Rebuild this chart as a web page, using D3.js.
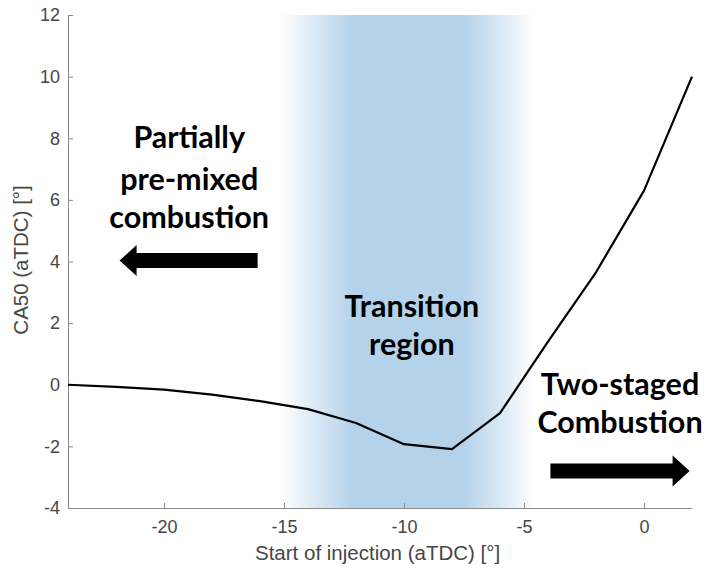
<!DOCTYPE html>
<html>
<head>
<meta charset="utf-8">
<script src="https://cdn.jsdelivr.net/npm/d3@7"></script>
<style>
  body { margin: 0; background: #fff; }
  svg { display: block; }
</style>
</head>
<body>
<svg id="chart" width="707" height="572"></svg>
<script>
// start of injection [deg aTDC] and CA50 [deg aTDC]
const soi = [-24, -22, -20, -18, -16, -14, -12, -10, -8, -6, -4, -2, 0, 2];
const ca50 = [0, -0.07, -0.16, -0.32, -0.53, -0.79, -1.24, -1.93, -2.09, -0.92, 1.4, 3.65, 6.3, 10];

const xTicks = [-20, -15, -10, -5, 0];
const yTicks = [-4, -2, 0, 2, 4, 6, 8, 10, 12];

// transition band (fade start, solid start, solid end, fade end)
const band = [-15.2, -12.1, -7.5, -4.5];

const svg = d3.select("#chart");
const W = +svg.attr("width");
const H = +svg.attr("height");
const margin = { top: 15, right: 15, bottom: 64, left: 68 };

const x = d3.scaleLinear().domain([-24, 2]).range([margin.left, W - margin.right]);
const y = d3.scaleLinear().domain([-4, 12]).range([H - margin.bottom, margin.top]);

// shaded transition region
const defs = svg.append("defs");
const grad = defs.append("linearGradient")
  .attr("id", "bandGrad")
  .attr("gradientUnits", "userSpaceOnUse")
  .attr("x1", x(band[0])).attr("x2", x(band[3]))
  .attr("y1", 0).attr("y2", 0);
const span = band[3] - band[0];
const blue = "#b4d2ea";
[
  [0, 0], [(band[1] - band[0]) / span, 1],
  [(band[2] - band[0]) / span, 1], [1, 0]
].forEach(([o, a]) => {
  grad.append("stop").attr("offset", o).attr("stop-color", blue).attr("stop-opacity", a);
});

svg.append("rect")
  .attr("x", x(band[0]))
  .attr("y", y(12))
  .attr("width", x(band[3]) - x(band[0]))
  .attr("height", y(-4) - y(12))
  .attr("fill", "url(#bandGrad)");

// axes
const axisColor = "#8a8a8a";
const labelColor = "#464646";
const axisFont = "'Liberation Sans', Arial, sans-serif";

const gx = svg.append("g")
  .attr("transform", `translate(0,${y(-4)})`)
  .call(d3.axisBottom(x).tickValues(xTicks).tickSizeInner(-5).tickSizeOuter(0).tickPadding(12));
const gy = svg.append("g")
  .attr("transform", `translate(${x(-24)},0)`)
  .call(d3.axisLeft(y).tickValues(yTicks).tickSizeInner(-5).tickSizeOuter(0).tickPadding(8));

[gx, gy].forEach(g => {
  g.select(".domain").attr("stroke", axisColor).attr("stroke-width", 1);
  g.selectAll(".tick line").attr("stroke", axisColor);
  g.selectAll(".tick text")
    .attr("fill", labelColor)
    .style("font-family", axisFont)
    .style("font-size", "18px");
});
gx.selectAll(".tick text").text(d => d < 0 ? "-" + Math.abs(d) : d);
gy.selectAll(".tick text").text(d => d < 0 ? "-" + Math.abs(d) : d);

svg.append("text")
  .attr("x", x(-11.1))
  .attr("y", 560)
  .attr("text-anchor", "middle")
  .attr("fill", labelColor)
  .style("font-family", axisFont)
  .style("font-size", "20.5px")
  .text("Start of injection (aTDC) [°]");

svg.append("text")
  .attr("transform", `translate(28,${y(4.05)}) rotate(-90)`)
  .attr("text-anchor", "middle")
  .attr("fill", labelColor)
  .style("font-family", axisFont)
  .style("font-size", "20.5px")
  .text("CA50 (aTDC) [°]");

// CA50 curve
const line = d3.line()
  .x((d, i) => x(soi[i]))
  .y(d => y(d));

svg.append("path")
  .datum(ca50)
  .attr("fill", "none")
  .attr("stroke", "#000")
  .attr("stroke-width", 2.2)
  .attr("stroke-linejoin", "round")
  .attr("d", line);

// annotations
const noteFont = "Lato, 'Open Sans', sans-serif";
function note(lines, cx, baselines) {
  lines.forEach((t, i) => {
    svg.append("text")
      .attr("x", x(cx))
      .attr("y", y(baselines[i]))
      .attr("text-anchor", "middle")
      .style("font-family", noteFont)
      .style("font-weight", 700)
      .style("font-size", "30.5px")
      .attr("fill", "#000")
      .text(t);
  });
}
note(["Partially", "pre-mixed", "combustion"], -18.95, [7.69, 6.33, 5.1]);
note(["Transition", "region"], -9.67, [2.2, 0.97]);
note(["Two-staged", "Combustion"], -1.0, [-0.32, -1.56]);

// arrows: from tail to tip at a given height
function arrow(x0, x1, yv) {
  const dir = Math.sign(x1 - x0);
  const px0 = x(x0), px1 = x(x1), py = y(yv);
  const headLen = 17, shaft = 7.5, head = 15.5;
  const hb = px1 - dir * headLen;
  const pts = [
    [px0, py - shaft], [hb, py - shaft], [hb, py - head], [px1, py],
    [hb, py + head], [hb, py + shaft], [px0, py + shaft]
  ];
  svg.append("path")
    .attr("d", "M" + pts.map(p => p.join(",")).join("L") + "Z")
    .attr("fill", "#000");
}
arrow(-16.1, -21.85, 4.03);
arrow(-3.9, 1.9, -2.8);
</script>
</body>
</html>
